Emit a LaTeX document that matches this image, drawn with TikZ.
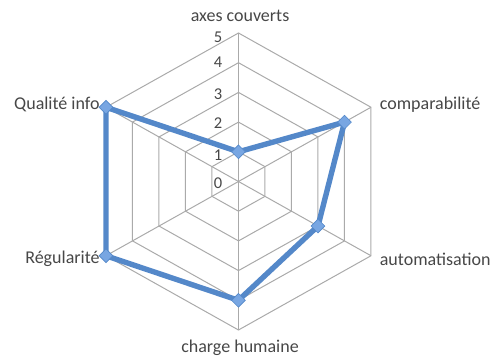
\documentclass[tikz,border=0pt]{standalone}
\usepackage{fontspec}
\setmainfont{Carlito}
\usepackage{tikz}
\usepackage{xcolor}
\usetikzlibrary{shapes.geometric}
\usetikzlibrary{positioning}

\definecolor{chartblue}{RGB}{84,136,201}
\definecolor{markblue}{RGB}{120,166,226}
\definecolor{gridgray}{RGB}{170,170,170}

\begin{document}
\begin{tikzpicture}[x=30.6pt, y=29.7pt,
    gridline/.style={draw=gridgray, line width=1pt},
    serieline/.style={draw=chartblue, line width=5.4pt, line join=round},
    marker/.style={draw=chartblue, fill=markblue, diamond, line width=0.6pt, minimum size=14pt, inner sep=0pt},
    axislabel/.style={text=black!72, font=\fontsize{18}{20}\selectfont, inner sep=1pt},
    scalelabel/.style={text=black!72, font=\fontsize{16.5}{18}\selectfont, inner sep=0pt}]
                % Fix the margins of the picture
                \useasboundingbox (-7.794,-5.943) rectangle (8.448,6.111);

                % Draw the hexagonal grid rings
                \draw[gridline] (90:1) -- (30:1) -- (-30:1) -- (-90:1) -- (210:1) -- (150:1) -- cycle;
                \draw[gridline] (90:2) -- (30:2) -- (-30:2) -- (-90:2) -- (210:2) -- (150:2) -- cycle;
                \draw[gridline] (90:3) -- (30:3) -- (-30:3) -- (-90:3) -- (210:3) -- (150:3) -- cycle;
                \draw[gridline] (90:4) -- (30:4) -- (-30:4) -- (-90:4) -- (210:4) -- (150:4) -- cycle;
                \draw[gridline] (90:5) -- (30:5) -- (-30:5) -- (-90:5) -- (210:5) -- (150:5) -- cycle;

                % Draw the spokes from the centre
                \draw[gridline] (0,0) -- (90:5);
                \draw[gridline] (0,0) -- (30:5);
                \draw[gridline] (0,0) -- (-30:5);
                \draw[gridline] (0,0) -- (-90:5);
                \draw[gridline] (0,0) -- (210:5);
                \draw[gridline] (0,0) -- (150:5);

                % Scale values along the top spoke
                \node[scalelabel] (s0) at (-0.67,-0.05) {0};
                \node[scalelabel] (s1) at (-0.67,0.9) {1};
                \node[scalelabel] (s2) at (-0.67,1.97) {2};
                \node[scalelabel] (s3) at (-0.67,2.95) {3};
                \node[scalelabel] (s4) at (-0.67,4.02) {4};
                \node[scalelabel] (s5) at (-0.67,4.87) {5};

                % Axis names
                \node[axislabel] (laxes) at (0.05,5.57) {axes couverts};
                \node[axislabel, anchor=west] (lcompa) at (4.58,2.58) {comparabilité};
                \node[axislabel, anchor=west] (lauto) at (4.58,-2.61) {automatisation};
                \node[axislabel] (lcharge) at (0.05,-5.6) {charge humaine};
                \node[axislabel, anchor=east] (lregul) at (-4.50,-2.61) {Régularité};
                \node[axislabel, anchor=east] (lqual) at (-4.50,2.58) {Qualité info};

                % Data points of the series
                \coordinate (axes) at (90:1);
                \coordinate (compa) at (30:4);
                \coordinate (auto) at (-30:3);
                \coordinate (charge) at (-90:4);
                \coordinate (regul) at (210:5);
                \coordinate (qual) at (150:5);

                % Draw the series line and its markers
                \draw[serieline] (axes) -- (compa) -- (auto) -- (charge) -- (regul) -- (qual) -- cycle;
                \node[marker] (maxes) at (axes) {};
                \node[marker] (mcompa) at (compa) {};
                \node[marker] (mauto) at (auto) {};
                \node[marker] (mcharge) at (charge) {};
                \node[marker] (mregul) at (regul) {};
                \node[marker] (mqual) at (qual) {};
            \end{tikzpicture}
\end{document}
